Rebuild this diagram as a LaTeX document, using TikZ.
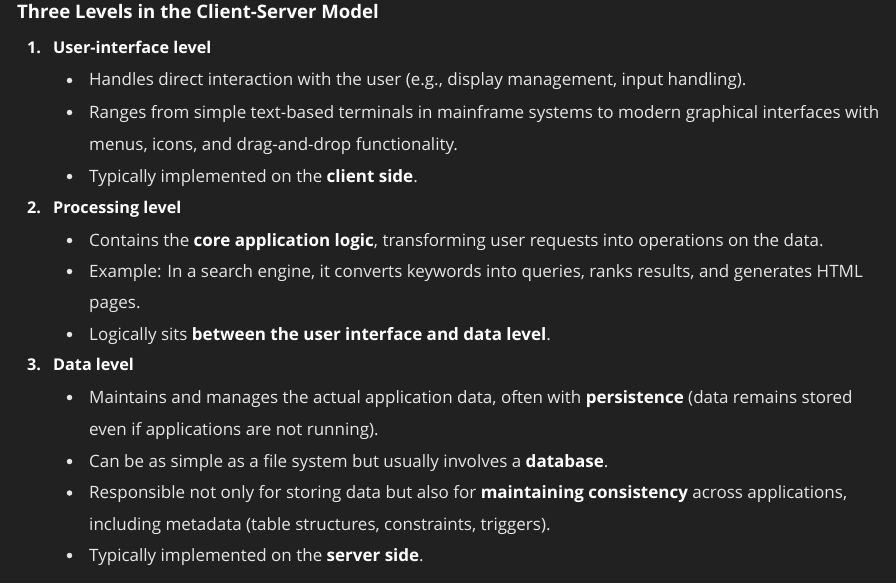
\documentclass[tikz,border=0pt]{standalone}
\usepackage{fontspec}
\setmainfont{Open Sans}
\usetikzlibrary{positioning}

\definecolor{pagebg}{HTML}{212121}
\definecolor{bodytext}{HTML}{E6E6E6}
\definecolor{boldtext}{HTML}{FFFFFF}

\newcommand{\keyword}[1]{{\bfseries\color{boldtext}#1}}

\begin{document}
\begin{tikzpicture}[
  x=1pt, y=-1pt,
  every node/.style={inner sep=0pt, text=bodytext, anchor=base west,
    font=\fontsize{17}{20}\selectfont},
  heading/.style={font=\fontsize{18.6}{22}\selectfont\bfseries, text=boldtext},
  levelnum/.style={font=\fontsize{16.2}{20}\selectfont\bfseries, text=boldtext},
  level/.style={font=\fontsize{16.2}{20}\selectfont\bfseries, text=boldtext},
  dot/.style={circle, fill=bodytext, minimum size=5.5pt, anchor=center}
]

% Background
\fill[pagebg] (0,0) rectangle (896,583);
\useasboundingbox (0,0) rectangle (896,583);

% Title
\node[heading] (title) at (17,18.3) {Three Levels in the Client-Server Model};

% Level 1
\node[levelnum] (n1) at (27,53.5) {1.};
\node[level] (l1) at (53,53.5) {User-interface level};
\node[dot] (b11) at (69.5,80.5) {};
\node (t11) at (89,86) {Handles direct interaction with the user (e.g., display management, input handling).};
\node[dot] (b12) at (69.5,112.5) {};
\node (t12) at (89,118) {Ranges from simple text-based terminals in mainframe systems to modern graphical interfaces with};
\node (t12b) at (89,150) {menus, icons, and drag-and-drop functionality.};
\node[dot] (b13) at (69.5,176.5) {};
\node (t13) at (89,182) {Typically implemented on the \keyword{client side}.};

% Level 2
\node[levelnum] (n2) at (27,213.5) {2.};
\node[level] (l2) at (53,213.5) {Processing level};
\node[dot] (b21) at (69.5,240.5) {};
\node (t21) at (89,246) {Contains the \keyword{core application logic}, transforming user requests into operations on the data.};
\node[dot] (b22) at (69.5,271.5) {};
\node (t22) at (89,277) {Example: In a search engine, it converts keywords into queries, ranks results, and generates HTML};
\node (t22b) at (89,308) {pages.};
\node[dot] (b23) at (69.5,334.5) {};
\node (t23) at (89,340) {Logically sits \keyword{between the user interface and data level}.};

% Level 3
\node[levelnum] (n3) at (27,370.5) {3.};
\node[level] (l3) at (53,370.5) {Data level};
\node[dot] (b31) at (69.5,397.5) {};
\node (t31) at (89,403) {Maintains and manages the actual application data, often with \keyword{persistence} (data remains stored};
\node (t31b) at (89,435) {even if applications are not running).};
\node[dot] (b32) at (69.5,461.5) {};
\node (t32) at (89,467) {Can be as simple as a file system but usually involves a \keyword{database}.};
\node[dot] (b33) at (69.5,493) {};
\node (t33) at (89,498.5) {Responsible not only for storing data but also for \keyword{maintaining consistency} across applications,};
\node (t33b) at (89,530) {including metadata (table structures, constraints, triggers).};
\node[dot] (b34) at (69.5,555.5) {};
\node (t34) at (89,561) {Typically implemented on the \keyword{server side}.};

\end{tikzpicture}
\end{document}
